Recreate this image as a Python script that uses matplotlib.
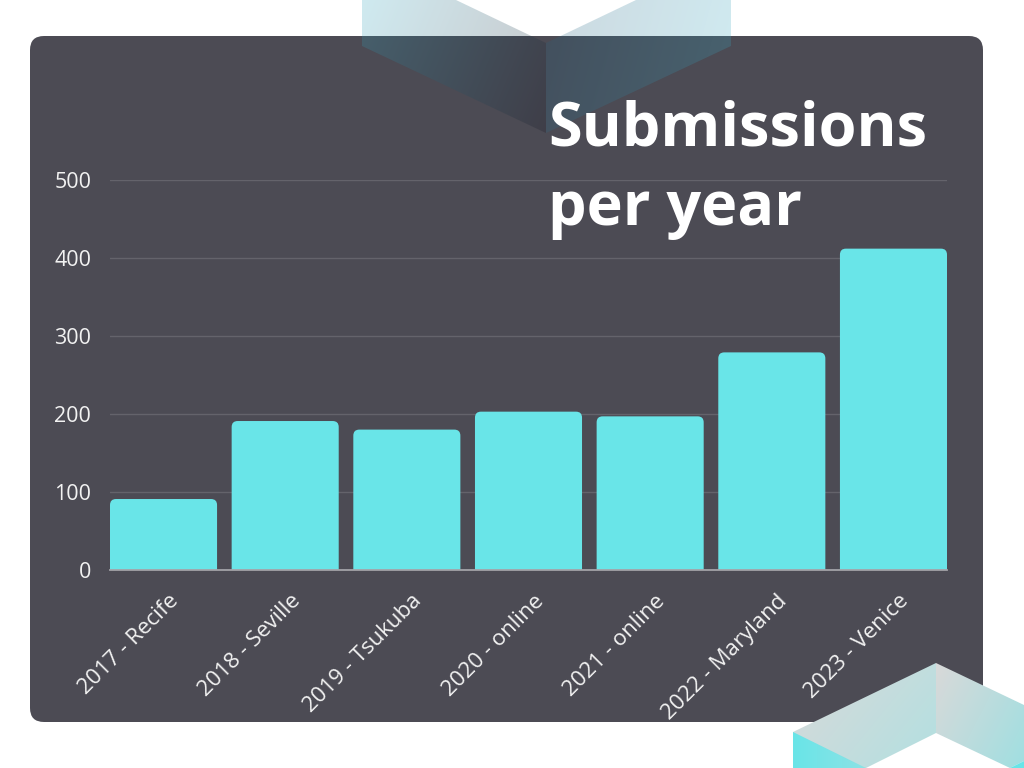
import matplotlib
matplotlib.use("Agg")
import matplotlib.pyplot as plt
import matplotlib.transforms as mtransforms
from matplotlib.patches import FancyBboxPatch, Polygon
import numpy as np

# ---------------- data ----------------
categories = ["2017 - Recife", "2018 - Seville", "2019 - Tsukuba", "2020 - online",
              "2021 - online", "2022 - Maryland", "2023 - Venice"]
submissions = [91, 191, 180, 203, 197, 279, 412]
y_ticks = [0, 100, 200, 300, 400, 500]
title_lines = ["Submissions", "per year"]

# ---------------- style ----------------
W, H = 1024, 768
PANEL = "#4c4b54"
BAR = "#69e5e8"
GRID = "#64636b"
TEXT = "#f2f2f2"
FONT = "Open Sans"

fig = plt.figure(figsize=(W / 100, H / 100), dpi=100, facecolor="white")

# background layer in pixel coordinates
bg = fig.add_axes([0, 0, 1, 1], zorder=0)
bg.set_xlim(0, W)
bg.set_ylim(H, 0)
bg.axis("off")

panel = FancyBboxPatch((30, 36), 953, 686, boxstyle="round,pad=0,rounding_size=14",
                       facecolor=PANEL, edgecolor="none")
bg.add_patch(panel)


def gradient_poly(ax, pts, c0, c1, a0=1.0, a1=1.0, direction=(1, 0)):
    pts = np.array(pts, dtype=float)
    x0, y0 = pts.min(axis=0)
    x1, y1 = pts.max(axis=0)
    nx, ny = 200, 100
    xx, yy = np.meshgrid(np.linspace(0, 1, nx), np.linspace(0, 1, ny))
    dx, dy = direction
    t = (xx * dx + yy * dy)
    t = (t - t.min()) / (t.max() - t.min() + 1e-9)
    c0 = np.array(c0) / 255.0
    c1 = np.array(c1) / 255.0
    rgb = c0[None, None, :] * (1 - t[..., None]) + c1[None, None, :] * t[..., None]
    alpha = a0 * (1 - t) + a1 * t
    img = np.dstack([rgb, alpha])
    im = ax.imshow(img, extent=(x0, x1, y1, y0), origin="upper", aspect="auto",
                   interpolation="bilinear", zorder=2)
    poly = Polygon(pts, closed=True, facecolor="none", edgecolor="none",
                   transform=ax.transData)
    ax.add_patch(poly)
    im.set_clip_path(poly)
    return im


# top decoration (translucent chevron)
gradient_poly(bg, [(362, 0), (456, 0), (546, 43), (546, 133), (362, 46)],
              (55, 167, 192), (22, 22, 36), 0.24, 0.24, direction=(1, 0.3))
gradient_poly(bg, [(546, 43), (636, 0), (731, 0), (731, 46), (546, 133)],
              (40, 95, 125), (60, 175, 200), 0.24, 0.24, direction=(1, 0.2))

# bottom-right decoration (cube corner)
gradient_poly(bg, [(793, 732), (936, 663), (936, 733), (866, 768), (793, 768)],
              (217, 217, 217), (178, 224, 225), direction=(1, 0.6))
gradient_poly(bg, [(936, 663), (1024, 705), (1024, 761), (1010, 768), (936, 733)],
              (217, 217, 217), (160, 223, 225), direction=(1, 0.6))
gradient_poly(bg, [(793, 732), (866, 768), (793, 768)],
              (105, 229, 232), (140, 226, 229), direction=(1, 0))
gradient_poly(bg, [(1010, 768), (1024, 761), (1024, 768)],
              (105, 229, 232), (105, 229, 232), direction=(1, 0))
bg.set_xlim(0, W)
bg.set_ylim(H, 0)

# ---------------- chart ----------------
ax = fig.add_axes([110 / W, (H - 570) / H, 837 / W, 390 / H], zorder=1)
ax.set_facecolor("none")
x = np.arange(len(categories))
bw = 0.88
bars = ax.bar(x, submissions, width=bw, color=BAR, zorder=2)
ax.set_xlim(-bw / 2, len(categories) - 1 + bw / 2)
ax.set_ylim(0, 500)

# rounded top corners derived from the bars
px_per_x = 837 / (len(categories) - 1 + bw)
px_per_y = 390 / 500
r_px = 6
rx = r_px / px_per_x
ry = r_px / px_per_y
for b in bars:
    bx, by, bwid, bh = b.get_x(), b.get_y(), b.get_width(), b.get_height()
    b.set_visible(False)
    ax.add_patch(FancyBboxPatch((bx, by - ry), bwid, bh + ry,
                                boxstyle=f"round,pad=0,rounding_size={rx}",
                                mutation_aspect=ry / rx, facecolor=BAR,
                                edgecolor="none", zorder=2))

ax.set_yticks(y_ticks)
ax.set_yticklabels([str(v) for v in y_ticks])
ax.set_xticks(x)
ax.set_xticklabels(categories)
ax.grid(axis="y", color=GRID, linewidth=1)
ax.set_axisbelow(True)
for s in ["top", "right", "left"]:
    ax.spines[s].set_visible(False)
ax.spines["bottom"].set_color("#a3a3a8")
ax.spines["bottom"].set_linewidth(1.3)
ax.spines["bottom"].set_zorder(3)
ax.tick_params(axis="both", length=0, colors=TEXT)
ax.tick_params(axis="y", pad=13.5, labelsize=15.5)
ax.tick_params(axis="x", pad=0, labelsize=16)
for lbl in ax.get_yticklabels():
    lbl.set_fontfamily(FONT)
offset = mtransforms.ScaledTranslation(12 / 100, -28 / 100, fig.dpi_scale_trans)
for lbl in ax.get_xticklabels():
    lbl.set_fontfamily(FONT)
    lbl.set_rotation(45)
    lbl.set_rotation_mode("anchor")
    lbl.set_ha("right")
    lbl.set_va("center")
    lbl.set_transform(lbl.get_transform() + offset)

# title (two lines, baselines)
for line, base in zip(title_lines, [145, 225]):
    fig.text(548 / W, 1 - base / H, line, fontsize=44, fontweight="bold",
             fontfamily=FONT, color="white", ha="left", va="baseline", zorder=5)

fig.savefig("out.png", dpi=100, facecolor="white")
